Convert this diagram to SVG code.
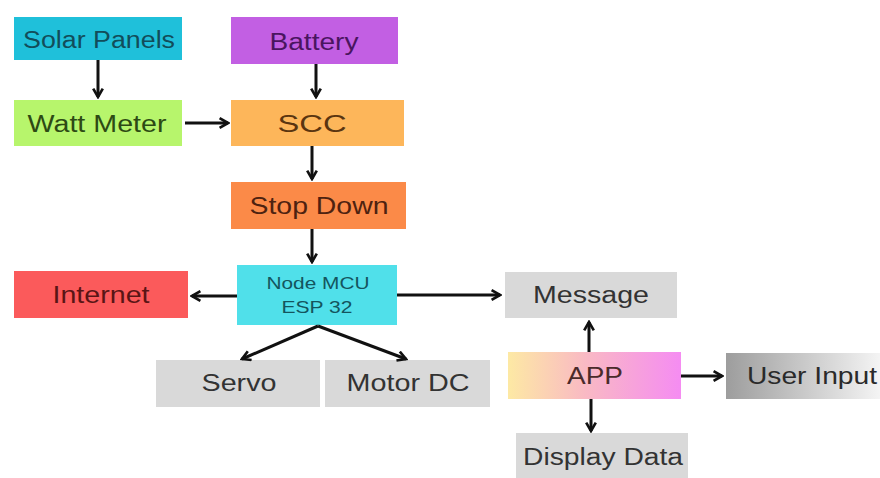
<svg xmlns="http://www.w3.org/2000/svg" width="880" height="478" viewBox="0 0 880 478">
<defs>
<marker id="ah" viewBox="0 0 10 10" refX="8" refY="5" markerWidth="4" markerHeight="4" orient="auto-start-reverse" markerUnits="strokeWidth">
<path d="M1,1 L8,5 L1,9" fill="none" stroke="#111" stroke-width="2.2"/>
</marker>
<linearGradient id="gApp" x1="0" x2="1" y1="0" y2="0">
<stop offset="0" stop-color="#fde9a4"/>
<stop offset="0.45" stop-color="#f9b9c4"/>
<stop offset="1" stop-color="#f58cf2"/>
</linearGradient>
<linearGradient id="gUser" x1="0" x2="1" y1="0" y2="0">
<stop offset="0" stop-color="#9d9d9d"/>
<stop offset="1" stop-color="#f4f4f4"/>
</linearGradient>
<style>
text{font-family:"Liberation Sans",Arial,sans-serif;font-size:23px;text-anchor:middle;dominant-baseline:central}
.s{font-size:17px}
.c{stroke:#111;stroke-width:3;fill:none;marker-end:url(#ah)}
.g{fill:#d9d9d9}
.gt{fill:#333}
</style>
</defs>
<rect width="880" height="478" fill="#fff"/>
<g id="solar"><rect x="14" y="17" width="168" height="43" fill="#1fc0da"/><text x="99" y="40" fill="#124d5a" textLength="152" lengthAdjust="spacingAndGlyphs">Solar Panels</text></g>
<g id="battery"><rect x="231" y="17" width="167" height="47" fill="#c25fe3"/><text x="314" y="42" fill="#4a1560" textLength="89" lengthAdjust="spacingAndGlyphs">Battery</text></g>
<g id="watt"><rect x="14" y="100" width="168" height="46" fill="#b7f56c"/><text x="97" y="124" fill="#2d4a14" textLength="139" lengthAdjust="spacingAndGlyphs">Watt Meter</text></g>
<g id="scc"><rect x="231" y="100" width="173" height="46" fill="#fdb65a"/><text x="312" y="124" fill="#5a3510" textLength="69" lengthAdjust="spacingAndGlyphs">SCC</text></g>
<g id="stopdown"><rect x="231" y="182" width="175" height="47" fill="#fb8a48"/><text x="319" y="206" fill="#4e2210" textLength="139" lengthAdjust="spacingAndGlyphs">Stop Down</text></g>
<g id="nodemcu"><rect x="237" y="265" width="160" height="60" fill="#50e0ea"/><text x="318" y="283" class="s" fill="#14555e" textLength="103" lengthAdjust="spacingAndGlyphs">Node MCU</text><text x="317" y="307" class="s" fill="#14555e" textLength="71" lengthAdjust="spacingAndGlyphs">ESP 32</text></g>
<g id="internet"><rect x="14" y="271" width="174" height="47" fill="#fb5a5b"/><text x="101" y="295" fill="#5a1515" textLength="97" lengthAdjust="spacingAndGlyphs">Internet</text></g>
<g id="message"><rect x="505" y="272" width="172" height="46" class="g"/><text x="591" y="295" class="gt" textLength="116" lengthAdjust="spacingAndGlyphs">Message</text></g>
<g id="servo"><rect x="156" y="360" width="164" height="47" class="g"/><text x="239" y="383" class="gt" textLength="75" lengthAdjust="spacingAndGlyphs">Servo</text></g>
<g id="motordc"><rect x="325" y="360" width="165" height="47" class="g"/><text x="408" y="383" class="gt" textLength="123" lengthAdjust="spacingAndGlyphs">Motor DC</text></g>
<g id="app"><rect x="508" y="352" width="173" height="47" fill="url(#gApp)"/><text x="595" y="376" fill="#4a2a2a" textLength="56" lengthAdjust="spacingAndGlyphs">APP</text></g>
<g id="userinput"><rect x="726" y="353" width="154" height="46" fill="url(#gUser)"/><text x="812" y="376" fill="#2a2a2a" textLength="130" lengthAdjust="spacingAndGlyphs">User Input</text></g>
<g id="display"><rect x="516" y="433" width="172" height="45" class="g"/><text x="603" y="457" class="gt" textLength="160" lengthAdjust="spacingAndGlyphs">Display Data</text></g>
<g id="connectors">
<line x1="98" y1="60" x2="98" y2="97" class="c"/>
<line x1="316" y1="64" x2="316" y2="97" class="c"/>
<line x1="185" y1="123" x2="228" y2="123" class="c"/>
<line x1="312" y1="146" x2="312" y2="179" class="c"/>
<line x1="312" y1="229" x2="312" y2="262" class="c"/>
<line x1="237" y1="296" x2="192" y2="296" class="c"/>
<line x1="397" y1="295" x2="500" y2="295" class="c"/>
<line x1="318" y1="326" x2="242" y2="359" class="c"/>
<line x1="318" y1="326" x2="406" y2="359" class="c"/>
<line x1="589" y1="352" x2="589" y2="322" class="c"/>
<line x1="591" y1="399" x2="591" y2="431" class="c"/>
<line x1="681" y1="376" x2="722" y2="376" class="c"/>
</g>
</svg>
